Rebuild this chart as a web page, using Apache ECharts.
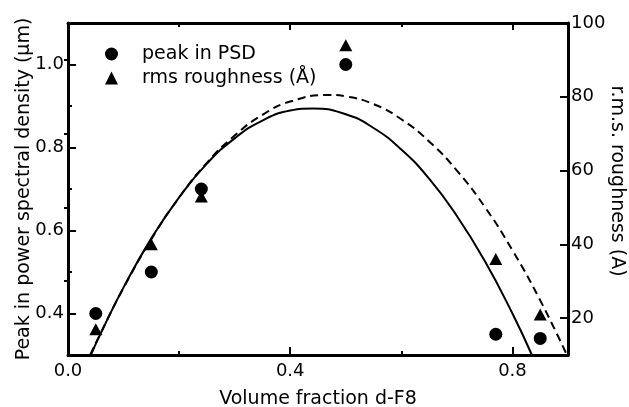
<!DOCTYPE html>
<html>
<head>
<meta charset="utf-8">
<script src="https://cdn.jsdelivr.net/npm/echarts@6/dist/echarts.min.js"></script>
<style>html,body{margin:0;padding:0;background:#fff}#c{width:629px;height:407px}</style>
</head>
<body>
<div id="c"></div>
<script>
// Data
var psdPoints = [[0.05, 0.40], [0.15, 0.50], [0.24, 0.70], [0.50, 1.00], [0.77, 0.35], [0.85, 0.34]];
var rmsPoints = [[0.05, 17], [0.15, 40], [0.24, 53], [0.50, 94], [0.77, 36], [0.85, 21]];
// solid fit curve (left axis, um)
var psdFit = [[0.041, 0.300], [0.06, 0.355], [0.10, 0.463], [0.15, 0.581], [0.20, 0.680], [0.25, 0.761],
  [0.30, 0.822], [0.35, 0.865], [0.40, 0.889], [0.44, 0.894], [0.50, 0.880], [0.55, 0.847], [0.60, 0.795],
  [0.65, 0.725], [0.70, 0.635], [0.75, 0.527], [0.80, 0.400], [0.835, 0.300]];
// dashed fit curve (right axis, A)
var rmsFit = [[0.04, 10], [0.06, 16.3], [0.10, 28.2], [0.15, 41.4], [0.20, 52.7], [0.25, 62.1], [0.30, 69.5],
  [0.35, 75.1], [0.40, 78.7], [0.47, 80.5], [0.50, 80.1], [0.55, 78.0], [0.60, 73.9], [0.65, 67.9],
  [0.70, 60.0], [0.75, 50.2], [0.80, 38.4], [0.85, 24.8], [0.898, 10]];
var xMajor = [0, 0.4, 0.8];
var xMinor = [0.2, 0.6];
var xTopMajor = [0.4, 0.8];
var yLeftMajor = [0.4, 0.6, 0.8, 1.0];
var yLeftMinor = [0.5, 0.7, 0.9];
var yRightMajor = [20, 40, 60, 80, 100];
var yRightMinor = [30, 50, 70, 90];

var FONT = 'DejaVu Sans';
var black = '#000';
function axisBase(extra) {
  var o = {
    type: 'value',
    splitLine: { show: false },
    axisLine: { show: true, onZero: false, lineStyle: { color: black, width: 3 } },
    axisLabel: { show: false },
    axisTick: { show: true, inside: true, length: 8, lineStyle: { color: black, width: 2 } }
  };
  for (var k in extra) o[k] = extra[k];
  return o;
}
function lbl(vals, margin) {
  return { show: true, customValues: vals, margin: margin, color: black, fontFamily: FONT, fontSize: 18,
    formatter: function (v) { return Number.isInteger(v) && v >= 10 ? String(v) : v.toFixed(1); } };
}
function tick(vals, len) {
  return { show: true, inside: true, length: len, customValues: vals, lineStyle: { color: black, width: 2 } };
}

var chart = echarts.init(document.getElementById('c'), null, { renderer: 'canvas' });
chart.setOption({
  animation: false,
  backgroundColor: '#fff',
  grid: { left: 68, right: 61, top: 23, bottom: 52, containLabel: false, outerBoundsMode: 'none' },
  legend: {
    orient: 'vertical', left: 105, top: 44.5, padding: 0, itemGap: 5,
    itemWidth: 13, itemHeight: 13,
    data: ['peak in PSD', 'rms roughness (Å)'],
    textStyle: { color: black, fontFamily: FONT, fontSize: 19, padding: [0, 0, 0, 19] }
  },
  xAxis: [
    axisBase({ position: 'bottom', min: 0, max: 0.9, axisTick: tick(xMajor, 8), axisLabel: lbl(xMajor, 7),
      name: 'Volume fraction d-F8', nameLocation: 'middle', nameGap: 35, nameMoveOverlap: false,
      nameTextStyle: { color: black, fontFamily: FONT, fontSize: 19 } }),
    axisBase({ position: 'bottom', min: 0, max: 0.9, axisLine: { show: false }, axisTick: tick(xMinor, 4) }),
    axisBase({ position: 'top', min: 0, max: 0.9, axisTick: tick(xTopMajor, 7) }),
    axisBase({ position: 'top', min: 0, max: 0.9, axisLine: { show: false }, axisTick: tick(xMinor, 4) })
  ],
  yAxis: [
    axisBase({ position: 'left', min: 0.3, max: 1.1, axisTick: tick(yLeftMajor, 8), axisLabel: lbl(yLeftMajor, 4),
      name: 'Peak in power spectral density (µm)', nameLocation: 'middle', nameGap: 34, nameRotate: 90,
      nameMoveOverlap: false,
      nameTextStyle: { color: black, fontFamily: FONT, fontSize: 19 } }),
    axisBase({ position: 'left', min: 0.3, max: 1.1, axisLine: { show: false }, axisTick: tick(yLeftMinor, 4) }),
    axisBase({ position: 'right', min: 10, max: 100, axisTick: tick(yRightMajor, 8), axisLabel: lbl(yRightMajor, 3),
      name: 'r.m.s. roughness (A)', nameLocation: 'middle', nameGap: 39, nameRotate: -90,
      nameMoveOverlap: false,
      nameTextStyle: { color: black, fontFamily: FONT, fontSize: 19, padding: [0, 16, 0, 0] } }),
    axisBase({ position: 'right', min: 10, max: 100, axisLine: { show: false }, axisTick: tick(yRightMinor, 4) })
  ],
  series: [
    { name: 'psd fit', type: 'line', xAxisIndex: 0, yAxisIndex: 0, data: psdFit, smooth: true, showSymbol: false,
      lineStyle: { color: black, width: 2 }, z: 2 },
    { name: 'rms fit', type: 'line', xAxisIndex: 0, yAxisIndex: 2, data: rmsFit, smooth: true, showSymbol: false,
      lineStyle: { color: black, width: 2, type: [8, 5] }, z: 2 },
    { name: 'peak in PSD', type: 'scatter', xAxisIndex: 0, yAxisIndex: 0, data: psdPoints, symbol: 'circle',
      symbolSize: 13, itemStyle: { color: black, opacity: 1 }, z: 3 },
    { name: 'rms roughness (Å)', type: 'scatter', xAxisIndex: 0, yAxisIndex: 2, data: rmsPoints, symbol: 'triangle',
      symbolSize: [13, 12], itemStyle: { color: black, opacity: 1 }, z: 3 }
  ]
});
</script>
</body>
</html>
